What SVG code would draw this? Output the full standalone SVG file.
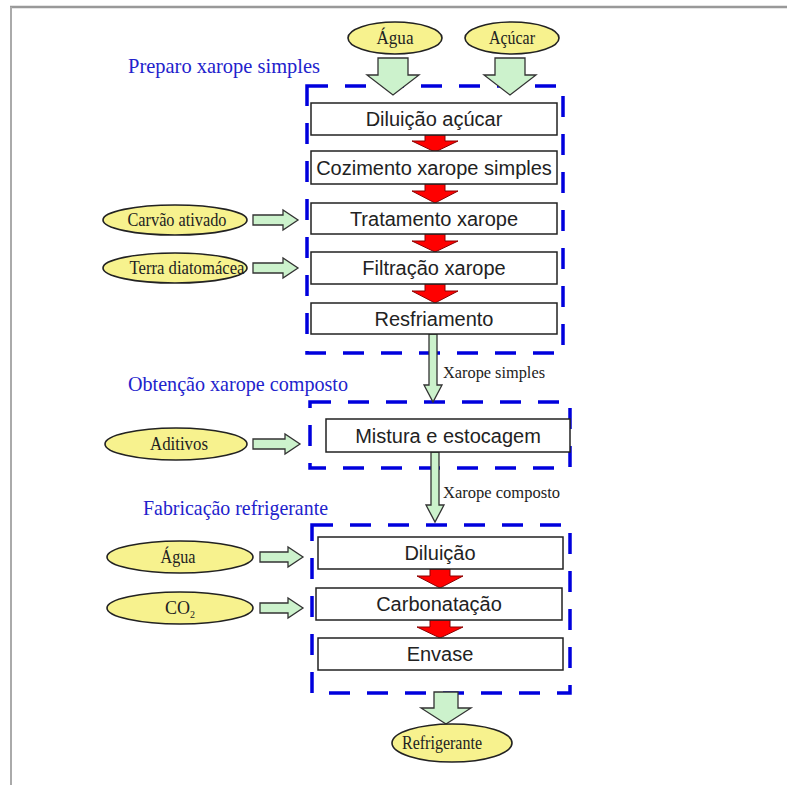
<svg xmlns="http://www.w3.org/2000/svg" width="787" height="785" viewBox="0 0 787 785">
<style>
.box{fill:#fff;stroke:#222;stroke-width:1.5}
.bt{font-family:"Liberation Sans",Arial,sans-serif;font-size:20px;fill:#222;text-anchor:middle}
.ell{fill:#f7f28e;stroke:#222;stroke-width:1.6}
.et{font-family:"Liberation Serif","Times New Roman",serif;font-size:18px;fill:#222;text-anchor:middle}
.sec{font-family:"Liberation Serif","Times New Roman",serif;font-size:22px;fill:#2222cc}
.lbl{font-family:"Liberation Serif","Times New Roman",serif;font-size:17px;fill:#222}
.dash{fill:none;stroke:#0000dd;stroke-width:3.5;stroke-dasharray:21 17}
.ga{fill:#ccf2cc;stroke:#333;stroke-width:1.3}
.ra{fill:#ff0000;stroke:#8b0000;stroke-width:1}
</style>
<rect width="787" height="785" fill="#fff"/>
<g id="frame">
<line x1="10" y1="7" x2="787" y2="7" stroke="#999" stroke-width="2.5"/>
<line x1="11" y1="7" x2="11" y2="785" stroke="#aaa" stroke-width="2"/>
</g>
<g id="groups">
<rect class="dash" x="307" y="86" width="256" height="267"/>
<rect class="dash" x="310" y="402" width="260" height="66"/>
<rect class="dash" x="312" y="525" width="258" height="168"/>
<text class="sec" x="128" y="73" textLength="192" lengthAdjust="spacingAndGlyphs">Preparo xarope simples</text>
<text class="sec" x="128" y="391" textLength="220" lengthAdjust="spacingAndGlyphs">Obtenção xarope composto</text>
<text class="sec" x="143" y="515" textLength="185" lengthAdjust="spacingAndGlyphs">Fabricação refrigerante</text>
</g>
<g id="connectors">
<path class="ga" d="M378,58 H408 V75 H419 L393,95 L367,75 H378 Z"/>
<path class="ga" d="M495,58 H525 V75 H536 L510,95 L484,75 H495 Z"/>
<path class="ga" d="M253,215 H283 V210 L298,220 L283,230 V225 H253 Z"/>
<path class="ga" d="M253,263 H283 V258 L298,268 L283,278 V273 H253 Z"/>
<path class="ga" d="M253,439 H285 V434 L300,444 L285,454 V449 H253 Z"/>
<path class="ga" d="M260,552 H288 V547 L303,557 L288,567 V562 H260 Z"/>
<path class="ga" d="M260,603 H288 V598 L303,608 L288,618 V613 H260 Z"/>
<path class="ga" d="M429,334 H437 V385 H442 L433,402 L424,385 H429 Z"/>
<path class="ga" d="M431,452 H439 V505 H444 L435,522 L426,505 H431 Z"/>
<path class="ga" d="M434,692 H458 V708 H471 L446,724 L421,708 H434 Z"/>
<path class="ra" d="M425,135 H445 V141 H458 L435,152 L412,141 H425 Z"/>
<path class="ra" d="M425,184 H445 V191 H458 L435,203 L412,191 H425 Z"/>
<path class="ra" d="M425,234 H445 V241 H458 L435,252 L412,241 H425 Z"/>
<path class="ra" d="M425,284 H445 V291 H458 L435,303 L412,291 H425 Z"/>
<path class="ra" d="M430,569 H450 V576 H463 L440,588 L417,576 H430 Z"/>
<path class="ra" d="M430,620 H450 V627 H463 L440,638 L417,627 H430 Z"/>
<text class="lbl" x="443" y="378" textLength="102" lengthAdjust="spacingAndGlyphs">Xarope simples</text>
<text class="lbl" x="443" y="498" textLength="117" lengthAdjust="spacingAndGlyphs">Xarope composto</text>
</g>
<g id="in-agua1"><ellipse class="ell" cx="395" cy="38" rx="47" ry="16"/><text class="et" x="395" y="44" textLength="37" lengthAdjust="spacingAndGlyphs">Água</text></g>
<g id="in-acucar"><ellipse class="ell" cx="512" cy="38" rx="47" ry="16"/><text class="et" x="512" y="44" textLength="46" lengthAdjust="spacingAndGlyphs">Açúcar</text></g>
<g id="in-carvao"><ellipse class="ell" cx="175" cy="220" rx="72" ry="15"/><text class="et" x="177" y="226" textLength="99" lengthAdjust="spacingAndGlyphs">Carvão ativado</text></g>
<g id="in-terra"><ellipse class="ell" cx="175" cy="268" rx="72" ry="15"/><text class="et" x="187" y="274" textLength="115" lengthAdjust="spacingAndGlyphs">Terra diatomácea</text></g>
<g id="in-aditivos"><ellipse class="ell" cx="176" cy="444" rx="71" ry="16"/><text class="et" x="179" y="450" textLength="58" lengthAdjust="spacingAndGlyphs">Aditivos</text></g>
<g id="in-agua2"><ellipse class="ell" cx="180" cy="557" rx="73" ry="16"/><text class="et" x="178" y="563" textLength="35" lengthAdjust="spacingAndGlyphs">Água</text></g>
<g id="in-co2"><ellipse class="ell" cx="180" cy="608" rx="73" ry="16"/><text class="et" x="180" y="614">CO<tspan font-size="10" dy="4">2</tspan></text></g>
<g id="out-refri"><ellipse class="ell" cx="452" cy="743" rx="60" ry="19"/><text class="et" x="442" y="749" textLength="80" lengthAdjust="spacingAndGlyphs">Refrigerante</text></g>
<g id="diluicao-acucar"><rect class="box" x="311" y="103" width="246" height="32"/><text class="bt" x="434" y="126">Diluição açúcar</text></g>
<g id="cozimento"><rect class="box" x="311" y="151" width="246" height="33"/><text class="bt" x="434" y="175">Cozimento xarope simples</text></g>
<g id="tratamento"><rect class="box" x="311" y="203" width="246" height="31"/><text class="bt" x="434" y="226">Tratamento xarope</text></g>
<g id="filtracao"><rect class="box" x="311" y="252" width="246" height="32"/><text class="bt" x="434" y="275">Filtração xarope</text></g>
<g id="resfriamento"><rect class="box" x="311" y="303" width="246" height="31"/><text class="bt" x="434" y="326">Resfriamento</text></g>
<g id="mistura"><rect class="box" x="326" y="419" width="244" height="33"/><text class="bt" x="448" y="443">Mistura e estocagem</text></g>
<g id="diluicao"><rect class="box" x="318" y="537" width="245" height="32"/><text class="bt" x="440" y="560">Diluição</text></g>
<g id="carbonatacao"><rect class="box" x="316" y="588" width="246" height="32"/><text class="bt" x="439" y="611">Carbonatação</text></g>
<g id="envase"><rect class="box" x="318" y="638" width="245" height="32"/><text class="bt" x="440" y="661">Envase</text></g>
</svg>
